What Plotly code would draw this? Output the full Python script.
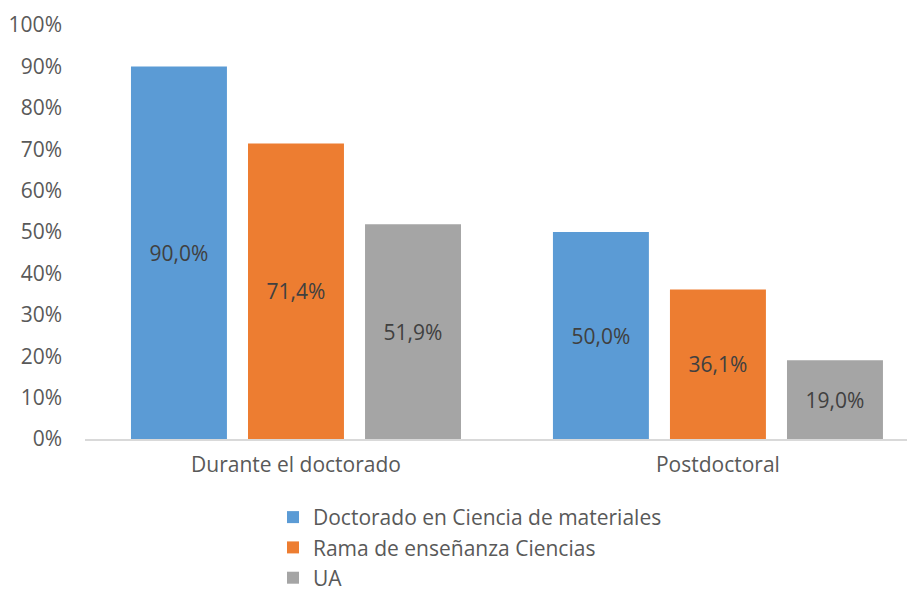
import plotly.graph_objects as go

# datos
categorias = ["Durante el doctorado", "Postdoctoral"]
series = ["Doctorado en Ciencia de materiales", "Rama de enseñanza Ciencias", "UA"]
doctorado_materiales = [0.900, 0.500]
rama_ciencias = [0.714, 0.361]
ua = [0.519, 0.190]
y_ticks = [0, 0.1, 0.2, 0.3, 0.4, 0.5, 0.6, 0.7, 0.8, 0.9, 1.0]

colores = ["#5b9bd5", "#ed7d31", "#a5a5a5"]
valores = [doctorado_materiales, rama_ciencias, ua]

fig = go.Figure()
for nombre, vals, color in zip(series, valores, colores):
    fig.add_trace(go.Bar(
        x=categorias,
        y=vals,
        name=nombre,
        legendgroup=nombre,
        marker=dict(color=color, line=dict(width=0)),
        texttemplate="%{y:.1%}",
        textposition="inside",
        insidetextanchor="middle",
        textfont=dict(size=21, color="#404040", family="Open Sans"),
        textangle=0,
    ))

# la página tiene un margen de 8 px, por eso los márgenes van compensados
fig.update_layout(
    width=915,
    height=592,
    separators=",.",
    barmode="group",
    bargap=0.168,
    bargroupgap=0.18,
    plot_bgcolor="white",
    paper_bgcolor="white",
    font=dict(family="Open Sans", size=21, color="#595959"),
    margin=dict(l=77, r=8, t=17, b=161, autoexpand=False),
    xaxis=dict(
        range=[-0.5, 1.467],
        automargin=False,
        showline=True,
        linecolor="#d9d9d9",
        linewidth=1.5,
        showgrid=False,
        ticks="",
        ticklabelstandoff=6,
        tickfont=dict(size=21, color="#595959"),
    ),
    yaxis=dict(
        range=[0, 1.0],
        automargin=False,
        tickvals=y_ticks,
        tickformat=".0%",
        showgrid=False,
        zeroline=False,
        showline=False,
        ticklabelstandoff=22,
        tickfont=dict(size=21, color="#595959"),
    ),
    legend=dict(
        orientation="v",
        x=0.2265,
        xanchor="left",
        y=-0.14,
        yanchor="top",
        font=dict(size=21, color="#595959"),
        itemwidth=30,
        tracegroupgap=0,
    ),
    showlegend=True,
)

fig.write_html("out.html")
